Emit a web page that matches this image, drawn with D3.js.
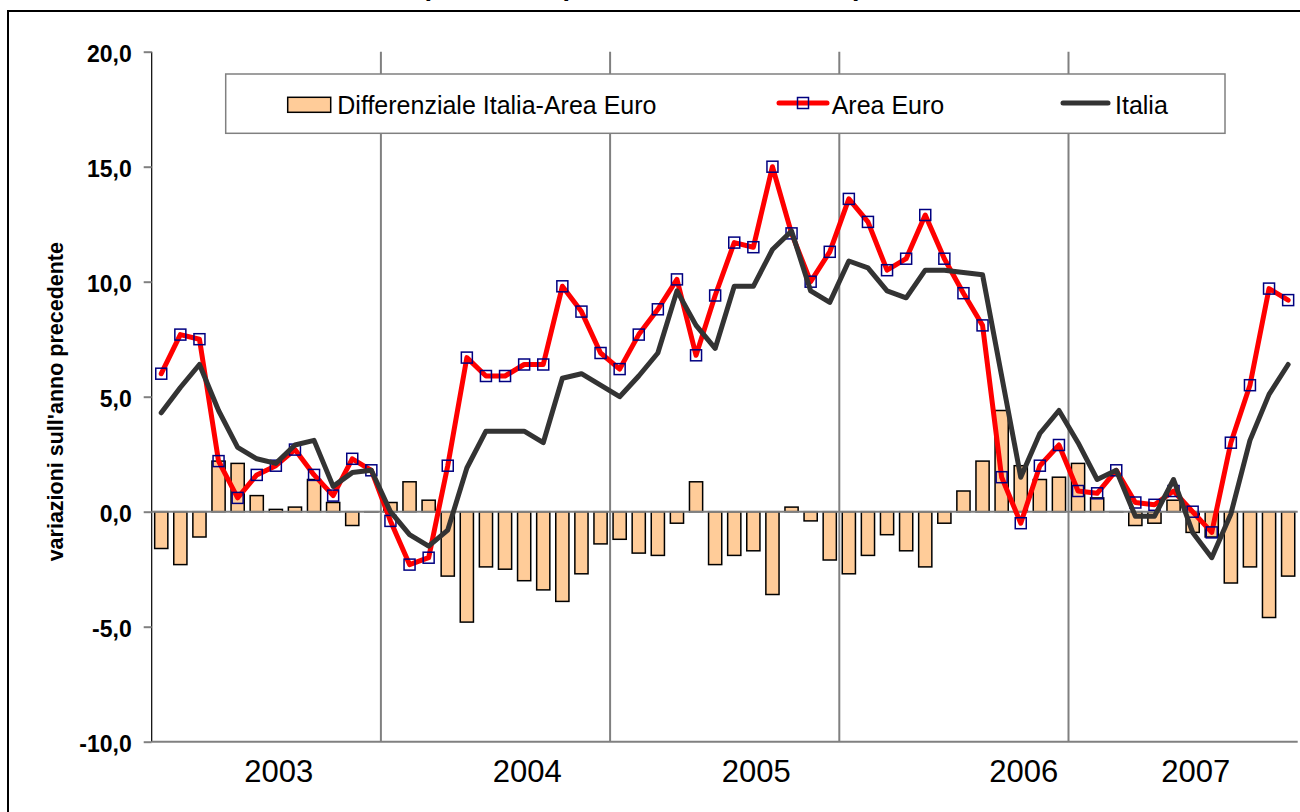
<!DOCTYPE html>
<html>
<head>
<meta charset="utf-8">
<script src="https://cdn.jsdelivr.net/npm/d3@7"></script>
<style>
  body { margin: 0; background: #fff; }
  svg { display: block; }
  text { font-family: "Liberation Sans", Arial, sans-serif; }
</style>
</head>
<body>
<script>
// serie mensili, gen 2003 - dic 2007
var years = ["2003", "2004", "2005", "2006", "2007"];
var monthNames = ["gen", "feb", "mar", "apr", "mag", "giu", "lug", "ago", "set", "ott", "nov", "dic"];

var areaEuro = [
  6.0, 7.7, 7.5, 2.2, 0.6, 1.6, 2.0, 2.7, 1.6, 0.7, 2.3, 1.8,
  -0.4, -2.3, -2.0, 2.0, 6.7, 5.9, 5.9, 6.4, 6.4, 9.8, 8.7, 6.9,
  6.2, 7.7, 8.8, 10.1, 6.8, 9.4, 11.7, 11.5, 15.0, 12.1, 10.0, 11.3,
  13.6, 12.6, 10.5, 11.0, 12.9, 11.0, 9.5, 8.1, 1.5, -0.5, 2.0, 2.9,
  0.9, 0.8, 1.8, 0.4, 0.3, 0.9, 0.0, -0.9, 3.0, 5.5, 9.7, 9.2
];

var italia = [
  4.3, 5.4, 6.4, 4.4, 2.8, 2.3, 2.1, 2.9, 3.1, 1.1, 1.7, 1.8,
  0.0, -1.0, -1.5, -0.8, 1.9, 3.5, 3.5, 3.5, 3.0, 5.8, 6.0, 5.5,
  5.0, 5.9, 6.9, 9.6, 8.1, 7.1, 9.8, 9.8, 11.4, 12.2, 9.6, 9.1,
  10.9, 10.6, 9.6, 9.3, 10.5, 10.5, 10.4, 10.3, 5.9, 1.5, 3.4, 4.4,
  3.0, 1.4, 1.8, -0.2, -0.2, 1.4, -0.9, -2.0, -0.1, 3.1, 5.1, 6.4
];

var differenziale = [
  -1.6, -2.3, -1.1, 2.2, 2.1, 0.7, 0.1, 0.2, 1.4, 0.4, -0.6, 0.0,
  0.4, 1.3, 0.5, -2.8, -4.8, -2.4, -2.5, -3.0, -3.4, -3.9, -2.7, -1.4,
  -1.2, -1.8, -1.9, -0.5, 1.3, -2.3, -1.9, -1.7, -3.6, 0.2, -0.4, -2.1,
  -2.7, -1.9, -1.0, -1.7, -2.4, -0.5, 0.9, 2.2, 4.4, 2.0, 1.4, 1.5,
  2.1, 0.6, 0.0, -0.6, -0.5, 0.5, -0.9, -1.1, -3.1, -2.4, -4.6, -2.8
];

var yTicks = [-10, -5, 0, 5, 10, 15, 20];
// the year labels sit under these months
var yearLabelMonths = ["lug 2003", "ago 2004", "ago 2005", "ott 2006", "lug 2007"];

var months = years.flatMap(function (y) {
  return monthNames.map(function (m) { return m + " " + y; });
});

var width = 1300, height = 812;
var plotLeft = 151.7, plotRight = 1297.7, plotTop = 51.7, plotBottom = 741.7;

var fmt = d3.formatLocale({ decimal: ",", thousands: ".", grouping: [3], currency: ["", ""], minus: "-" }).format(".1f");

var svg = d3.select("body")
  .append("svg")
  .attr("width", width)
  .attr("height", height);

var x = d3.scaleBand().domain(months).range([plotLeft, plotRight]).padding(0);
var y = d3.scaleLinear().domain([-10, 20]).range([plotBottom, plotTop]);

// outer frame and cut-off title
svg.append("rect")
  .attr("x", 8).attr("y", 11)
  .attr("width", 1310).attr("height", 830)
  .attr("fill", "none")
  .attr("stroke", "#000")
  .attr("stroke-width", 2);

svg.append("text")
  .attr("x", 642).attr("y", -5)
  .attr("text-anchor", "middle")
  .style("font-size", "27px")
  .style("font-weight", "bold")
  .text("(variazioni percentuali tendenziali)");

// year separators
svg.selectAll("line.sep")
  .data(years.slice(1))
  .enter()
  .append("line")
  .attr("class", "sep")
  .attr("x1", function (d) { return x("gen " + d); })
  .attr("x2", function (d) { return x("gen " + d); })
  .attr("y1", plotTop)
  .attr("y2", plotBottom)
  .attr("stroke", "#808080")
  .attr("stroke-width", 2);

// y axis
var yAxis = svg.append("g")
  .attr("transform", "translate(" + plotLeft + ",0)")
  .call(d3.axisLeft(y).tickValues(yTicks).tickSize(8).tickPadding(12).tickFormat(fmt));
yAxis.select(".domain").attr("stroke", "#000").attr("stroke-width", 1.2).attr("d", "M0," + plotTop + "V" + plotBottom);
yAxis.selectAll(".tick line").attr("stroke", "#808080").attr("stroke-width", 2);
yAxis.selectAll(".tick text")
  .attr("dy", "0.42em")
  .style("font-size", "23px")
  .style("font-weight", "bold")
  .style("font-family", "'Liberation Sans', Arial, sans-serif")
  .attr("fill", "#000");

svg.append("text")
  .attr("transform", "translate(63," + 401.7 + ") rotate(-90)")
  .attr("text-anchor", "middle")
  .style("font-size", "21.5px")
  .style("font-weight", "bold")
  .text("variazioni sull'anno precedente");

// bottom axis line
svg.append("line")
  .attr("x1", plotLeft).attr("x2", plotRight)
  .attr("y1", plotBottom).attr("y2", plotBottom)
  .attr("stroke", "#808080")
  .attr("stroke-width", 2);

svg.selectAll("text.year")
  .data(yearLabelMonths)
  .enter()
  .append("text")
  .attr("class", "year")
  .attr("x", function (d) { return x(d) + x.bandwidth() / 2 + 3; })
  .attr("y", 782)
  .attr("text-anchor", "middle")
  .style("font-size", "31px")
  .text(function (d) { return d.split(" ")[1]; });

// bars
var barW = x.bandwidth() * 0.69;
svg.selectAll("rect.bar")
  .data(differenziale)
  .enter()
  .append("rect")
  .attr("class", "bar")
  .attr("x", function (d, i) { return x(months[i]) + (x.bandwidth() - barW) / 2; })
  .attr("y", function (d) { return Math.min(y(d), y(0)); })
  .attr("width", barW)
  .attr("height", function (d) { return Math.max(Math.abs(y(d) - y(0)), 0.1); })
  .attr("fill", "#FFCC99")
  .attr("stroke", "#000")
  .attr("stroke-width", 1.5);

// zero line
svg.append("line")
  .attr("x1", plotLeft).attr("x2", plotRight)
  .attr("y1", y(0)).attr("y2", y(0))
  .attr("stroke", "#808080")
  .attr("stroke-width", 2);

var cx = function (d, i) { return x(months[i]) + x.bandwidth() / 2; };

var line = d3.line()
  .x(cx)
  .y(function (d) { return y(d); });

svg.append("path")
  .datum(areaEuro)
  .attr("d", line)
  .attr("fill", "none")
  .attr("stroke", "#FF0000")
  .attr("stroke-width", 5)
  .attr("stroke-linejoin", "round")
  .attr("stroke-linecap", "round");

svg.selectAll("rect.mark")
  .data(areaEuro)
  .enter()
  .append("rect")
  .attr("class", "mark")
  .attr("x", function (d, i) { return cx(d, i) - 5.5; })
  .attr("y", function (d) { return y(d) - 5.5; })
  .attr("width", 11)
  .attr("height", 11)
  .attr("fill", "none")
  .attr("stroke", "#000080")
  .attr("stroke-width", 1.5);

svg.append("path")
  .datum(italia)
  .attr("d", line)
  .attr("fill", "none")
  .attr("stroke", "#333333")
  .attr("stroke-width", 5)
  .attr("stroke-linejoin", "round")
  .attr("stroke-linecap", "round");

// legend
var legend = svg.append("g");
legend.append("rect")
  .attr("x", 225.7).attr("y", 74)
  .attr("width", 999.3).attr("height", 59.3)
  .attr("fill", "#fff")
  .attr("stroke", "#808080")
  .attr("stroke-width", 1.5);

legend.append("rect")
  .attr("x", 287.7).attr("y", 97.3)
  .attr("width", 43).attr("height", 15)
  .attr("fill", "#FFCC99")
  .attr("stroke", "#000")
  .attr("stroke-width", 1.5);
legend.append("text")
  .attr("x", 337.3).attr("y", 114)
  .style("font-size", "25px")
  .text("Differenziale Italia-Area Euro");

legend.append("line")
  .attr("x1", 779).attr("x2", 827)
  .attr("y1", 103).attr("y2", 103)
  .attr("stroke", "#FF0000")
  .attr("stroke-width", 5)
  .attr("stroke-linecap", "round");
legend.append("rect")
  .attr("x", 803 - 5.5).attr("y", 103 - 5.5)
  .attr("width", 11).attr("height", 11)
  .attr("fill", "none")
  .attr("stroke", "#000080")
  .attr("stroke-width", 1.5);
legend.append("text")
  .attr("x", 831.7).attr("y", 114)
  .style("font-size", "25px")
  .text("Area Euro");

legend.append("line")
  .attr("x1", 1063).attr("x2", 1108)
  .attr("y1", 103).attr("y2", 103)
  .attr("stroke", "#333333")
  .attr("stroke-width", 5)
  .attr("stroke-linecap", "round");
legend.append("text")
  .attr("x", 1115).attr("y", 114)
  .style("font-size", "25px")
  .text("Italia");
</script>
</body>
</html>
